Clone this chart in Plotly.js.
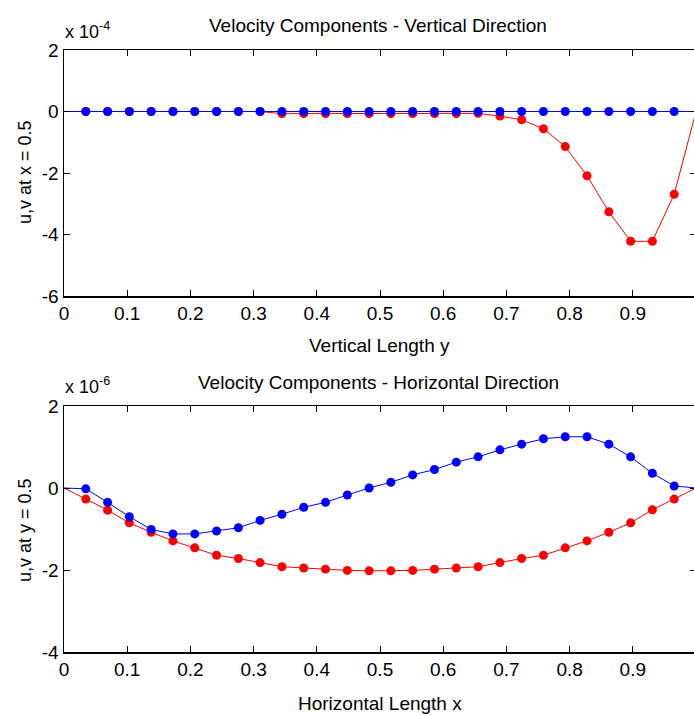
<!DOCTYPE html>
<html>
<head>
<meta charset="utf-8">
<script src="https://cdn.plot.ly/plotly-3.0.1.min.js"></script>
<style>
html, body { margin: 0; padding: 0; overflow: hidden; background: #fff; }
#chart { width: 700px; height: 715px; }
</style>
</head>
<body>
<div id="chart"></div>
<script>
// grid positions (shared by both panels)
const gridX = [0, 0.0345, 0.0690, 0.1034, 0.1379, 0.1724, 0.2069, 0.2414, 0.2759, 0.3103,
  0.3448, 0.3793, 0.4138, 0.4483, 0.4828, 0.5172, 0.5517, 0.5862, 0.6207, 0.6552,
  0.6897, 0.7241, 0.7586, 0.7931, 0.8276, 0.8621, 0.8966, 0.9310, 0.9655, 1];

// top panel: values in units of 1e-4, along vertical line x = 0.5
const uTop = [0, 0, 0, 0, 0, 0, 0, 0, 0, 0,
  -0.07, -0.07, -0.07, -0.07, -0.07, -0.07, -0.07, -0.07, -0.07, -0.06,
  -0.15, -0.27, -0.56, -1.14, -2.09, -3.26, -4.22, -4.22, -2.69, 0];
const vTop = [0, 0, 0, 0, 0, 0, 0, 0, 0, 0,
  0, 0, 0, 0, 0, 0, 0, 0, 0, 0,
  0, 0, 0, 0, 0, 0, 0, 0, 0, 0];

// bottom panel: values in units of 1e-6, along horizontal line y = 0.5
const uBot = [0, -0.27, -0.54, -0.85, -1.08, -1.29, -1.46, -1.64, -1.72, -1.82,
  -1.92, -1.95, -1.98, -2.01, -2.02, -2.02, -2.01, -1.98, -1.95, -1.92,
  -1.82, -1.72, -1.64, -1.46, -1.29, -1.08, -0.85, -0.53, -0.27, 0];
const vBot = [0, -0.02, -0.35, -0.70, -1.01, -1.12, -1.12, -1.05, -0.97, -0.79,
  -0.64, -0.47, -0.35, -0.17, 0.0, 0.14, 0.32, 0.45, 0.63, 0.76,
  0.93, 1.07, 1.20, 1.25, 1.25, 1.07, 0.76, 0.36, 0.05, 0];

const xTicks = [0, 0.1, 0.2, 0.3, 0.4, 0.5, 0.6, 0.7, 0.8, 0.9, 1];
const yTicksTop = [-6, -4, -2, 0, 2];
const yTicksBot = [-4, -2, 0, 2];

const W = 700, H = 715;
const mSize = gridX.map((_, i) => (i === 0 || i === gridX.length - 1) ? 0 : 9);

function tr(x, y, color, xa, ya) {
  return {
    x: x, y: y, xaxis: xa, yaxis: ya, type: 'scatter', mode: 'lines+markers',
    line: {color: color, width: 1},
    marker: {color: color, size: mSize, opacity: 1, line: {width: 0}},
    opacity: 1,
    showlegend: false, hoverinfo: 'none'
  };
}

const data = [
  tr(gridX, uTop, '#ff0000', 'x', 'y'),
  tr(gridX, vTop, '#0000ff', 'x', 'y'),
  tr(gridX, uBot, '#ff0000', 'x2', 'y2'),
  tr(gridX, vBot, '#0000ff', 'x2', 'y2')
];

const fam = '"Liberation Sans Narrow", "Arial Narrow", "Liberation Sans", Arial, sans-serif';
const tickFont = {family: fam, size: 19, color: '#000'};
const txtFont = {family: fam, size: 18, color: '#000'};
const titleFont = {family: fam, size: 19, color: '#000'};
const ylabFont = {family: '"Liberation Sans", Arial, sans-serif', size: 18, color: '#000'};

function xaxis(anchor) {
  return {
    anchor: anchor, domain: [64 / W, 696 / W], range: [0, 1],
    tickvals: xTicks, ticktext: xTicks.map(String),
    ticks: 'inside', ticklen: 6, tickcolor: '#000', tickwidth: 1,
    showline: true, linecolor: '#000', linewidth: 1.5, mirror: 'ticks',
    showgrid: false, zeroline: false, tickfont: tickFont, fixedrange: true
  };
}
function yaxis(anchor, dom, rng, vals) {
  return {
    anchor: anchor, domain: dom, range: rng,
    tickvals: vals, ticktext: vals.map(String),
    ticks: 'inside', ticklen: 6, tickcolor: '#000', tickwidth: 1,
    showline: true, linecolor: '#000', linewidth: 1.5, mirror: 'ticks',
    showgrid: false, zeroline: false, tickfont: tickFont, fixedrange: true
  };
}

const layout = {
  width: W, height: H,
  margin: {l: 0, r: 0, t: 0, b: 0},
  paper_bgcolor: '#fff', plot_bgcolor: '#fff',
  xaxis: xaxis('y'),
  yaxis: yaxis('x', [1 - 296 / H, 1 - 50 / H], [-6, 2], yTicksTop),
  xaxis2: xaxis('y2'),
  yaxis2: yaxis('x2', [1 - 652 / H, 1 - 406 / H], [-4, 2], yTicksBot),
  annotations: [
    {text: 'Velocity Components - Vertical Direction', x: 378 / W, y: 1 - 25 / H, xref: 'paper', yref: 'paper',
     showarrow: false, xanchor: 'center', yanchor: 'middle', font: titleFont},
    {text: 'Velocity Components - Horizontal Direction', x: 378 / W, y: 1 - 382 / H, xref: 'paper', yref: 'paper',
     showarrow: false, xanchor: 'center', yanchor: 'middle', font: titleFont},
    {text: 'x 10<sup>-4</sup>', x: 63 / W, y: 1 - 30 / H, xref: 'paper', yref: 'paper',
     showarrow: false, xanchor: 'left', yanchor: 'middle', font: txtFont},
    {text: 'x 10<sup>-6</sup>', x: 63 / W, y: 1 - 386 / H, xref: 'paper', yref: 'paper',
     showarrow: false, xanchor: 'left', yanchor: 'middle', font: txtFont},
    {text: 'Vertical Length y', x: 380 / W, y: 1 - 346 / H, xref: 'paper', yref: 'paper',
     showarrow: false, xanchor: 'center', yanchor: 'middle', font: titleFont},
    {text: 'Horizontal Length x', x: 380 / W, y: 1 - 703 / H, xref: 'paper', yref: 'paper',
     showarrow: false, xanchor: 'center', yanchor: 'middle', font: titleFont},
    {text: 'u,v at x = 0.5', x: 25 / W, y: 1 - 172 / H, xref: 'paper', yref: 'paper', textangle: -90,
     showarrow: false, xanchor: 'center', yanchor: 'middle', font: ylabFont},
    {text: 'u,v at y = 0.5', x: 25 / W, y: 1 - 530 / H, xref: 'paper', yref: 'paper', textangle: -90,
     showarrow: false, xanchor: 'center', yanchor: 'middle', font: ylabFont}
  ]
};

Plotly.newPlot('chart', data, layout, {staticPlot: true, displayModeBar: false});
</script>
</body>
</html>
